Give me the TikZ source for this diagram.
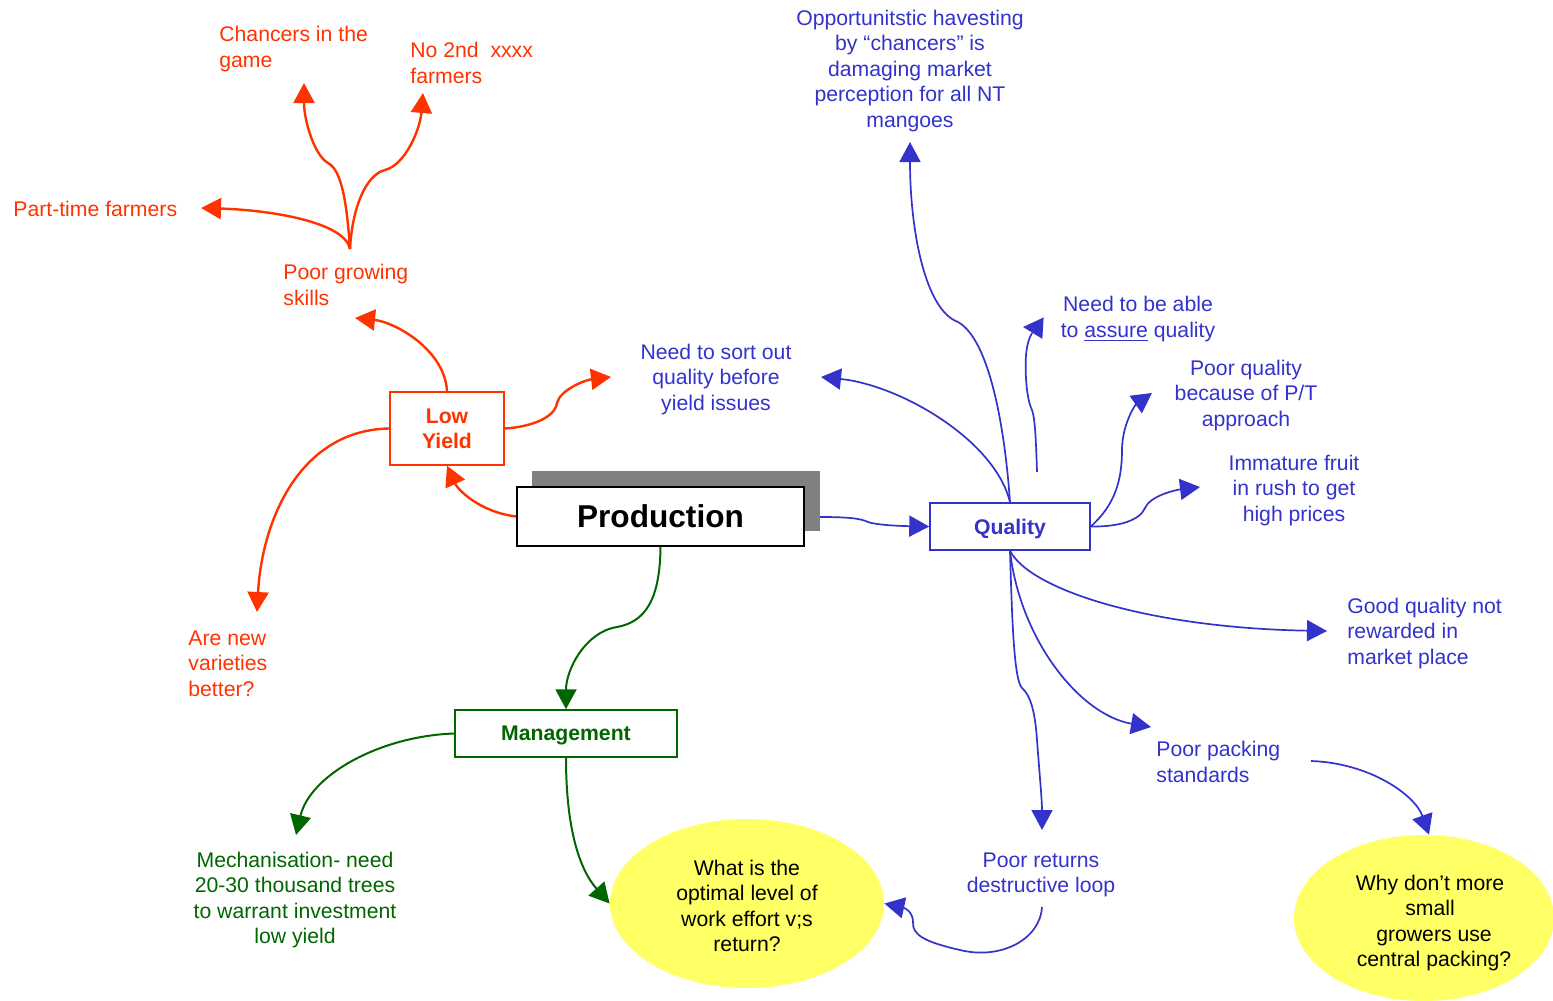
\documentclass[tikz,border=0pt]{standalone}
\usepackage{fontspec}
\setmainfont{Liberation Sans}
\usetikzlibrary{arrows.meta,shapes.geometric}
\definecolor{redo}{RGB}{255,51,0}
\definecolor{blu}{RGB}{51,51,204}
\definecolor{grn}{RGB}{0,102,0}
\definecolor{yel}{RGB}{255,255,102}
\definecolor{shd}{RGB}{128,128,128}

\begin{document}
\begin{tikzpicture}[x=0.5pt,y=-0.5pt,
  txt/.style={inner sep=0pt, yshift=-1pt, font=\fontsize{10.6}{12.75}\selectfont},
  lbl/.style={txt, align=left, anchor=west},
  ctr/.style={txt, align=center},
  box/.style={draw, line width=0.75pt, inner sep=0pt, align=center,
    font=\bfseries\fontsize{10.6}{12.5}\selectfont},
  bubble/.style={ellipse, fill=yel, inner sep=0pt},
  tip/.style={-{Triangle[length=10pt,width=10.5pt]}},
  rl/.style={redo, line width=1.2pt, tip},
  bl/.style={blu, line width=0.85pt, tip},
  gl/.style={grn, line width=1pt, tip},
]
\useasboundingbox (0,0) rectangle (1553,1001);
\fill[white] (0,0) rectangle (1553,1001);

% ---- central node with its shadow ----
\node[fill=shd, minimum width=144pt, minimum height=30pt, inner sep=0pt,
  anchor=north west] (shadow) at (532,471) {};
\node[draw=black, fill=white, line width=1pt, minimum width=143.5pt,
  minimum height=29.5pt, inner sep=0pt,
  font=\bfseries\fontsize{15.8}{18}\selectfont] (prod) at (660.5,516.5) {Production};

% ---- branch boxes ----
\node[box, draw=redo, text=redo, minimum width=57pt, minimum height=36.5pt]
  (ly) at (447,428.5) {Low\\Yield};
\node[box, draw=blu, text=blu, minimum width=80pt, minimum height=23.5pt,
  text height=9.7pt, text depth=2.2pt] (q) at (1010,526.5) {Quality};
\node[box, draw=grn, text=grn, minimum width=111pt, minimum height=23.5pt,
  text height=9.2pt, text depth=2.2pt] (mg) at (566,733.5) {Management};

% ---- question bubbles ----
\node[bubble, minimum width=137pt, minimum height=84.5pt] (e1) at (747,903.5) {};
\node[ctr, text=black] (e1t) at (747,904)
  {What is the\\optimal level of\\work effort v;s\\return?};
\node[bubble, minimum width=130pt, minimum height=83pt] (e2) at (1424,918) {};
\node[ctr, text=black] (e2t) at (1430,921)
  {Why don’t more\\small\\\hspace*{4pt}growers use\\\hspace*{4pt}central packing?};

% ---- red (yield) labels ----
\begin{scope}[text=redo]
\node[lbl] (chance) at (219,47) {Chancers in the\\game};
\node[lbl] (no2nd) at (410,61) {No 2nd\ \ xxxx\\farmers};
\node[lbl] (part) at (13,207) {Part-time farmers};
\node[lbl] (pgrow) at (283,283) {Poor growing\\skills};
\node[lbl] (arenew) at (188,661.5) {Are new\\varieties\\better?};
\end{scope}

% ---- blue (quality) labels ----
\begin{scope}[text=blu]
\node[ctr] (sort) at (716,377.5) {Need to sort out\\quality before\\yield issues};
\node[ctr] (opp) at (910,69) {Opportunitstic havesting\\by “chancers” is\\damaging market\\perception for all NT\\mangoes};
\node[ctr] (assure) at (1138,317) {Need to be able\\to \underline{assure} quality};
\node[ctr] (poorq) at (1246,393.5) {Poor quality\\because of P/T\\approach};
\node[ctr] (imm) at (1294,488.5) {Immature fruit\\in rush to get\\high prices};
\node[lbl] (goodq) at (1347,631.5) {Good quality not\\rewarded in\\market place};
\node[lbl] (pack) at (1156,760) {Poor packing\\standards};
\node[ctr] (ret) at (1041,873) {Poor returns\\destructive loop};
\end{scope}

% ---- green (management) label ----
\node[ctr, text=grn] (mech) at (295,898)
  {Mechanisation- need\\20-30 thousand trees\\to warrant investment\\low yield};

% ---- connector end points ----
\coordinate (pgTop) at (350,249);
\coordinate (tChance) at (304,83);
\coordinate (tNo2nd) at (423,93);
\coordinate (tPart) at (201,208);
\coordinate (tPgrow) at (355,318);
\coordinate (tSortR) at (611,377);
\coordinate (tAreNew) at (257,612);
\coordinate (tSortB) at (821,377);
\coordinate (tOpp) at (910,142);
\coordinate (aStart) at (1037,472);
\coordinate (aBase) at (1040,328);
\coordinate (tAssure) at (1023,327);
\coordinate (tPoorQ) at (1152,393);
\coordinate (tImm) at (1200,487);
\coordinate (tGoodQ) at (1327,631);
\coordinate (tPack) at (1151,727);
\coordinate (tRet) at (1042,830);
\coordinate (packEnd) at (1311,761);
\coordinate (retEnd) at (1042,907);
\coordinate (prodR) at (820,517);
\coordinate (tMech) at (296,835);

% ---- red connectors ----
\draw[rl] (prod.west) .. controls (480,512) and (458,490) .. (ly.south);
\draw[rl] (ly.north) .. controls (445,350) and (395,322) .. (tPgrow);
\draw[rl] (ly.east) .. controls (530,427) and (555,418) .. (557,403)
  .. controls (560,390) and (585,380) .. (tSortR);
\draw[rl] (ly.west) .. controls (300,430) and (262,520) .. (tAreNew);
\draw[rl] (pgTop) .. controls (345,222) and (270,210) .. (tPart);
\draw[rl] (pgTop) .. controls (347,205) and (342,170) .. (328,163)
  .. controls (314,155) and (304,120) .. (tChance);
\draw[rl] (pgTop) .. controls (352,210) and (365,175) .. (385,170)
  .. controls (405,165) and (420,130) .. (tNo2nd);

% ---- blue connectors ----
\draw[bl] (prodR) .. controls (845,517) and (860,518) .. (868,522)
  .. controls (876,525) and (900,526) .. (q.west);
\draw[bl] (q.north) .. controls (1005,430) and (990,340) .. (958,322)
  .. controls (925,310) and (910,230) .. (tOpp);
\draw[bl] (q.north) .. controls (995,440) and (900,385) .. (tSortB);
\draw[blu, line width=0.85pt] (aStart) .. controls (1036,440) and (1035,418) .. (1032,410)
  .. controls (1026,398) and (1025,370) .. (1026,355)
  .. controls (1027,345) and (1029,338) .. (1032,333);
\draw[bl] (aBase) -- (tAssure);
\draw[bl] (q.east) .. controls (1115,505) and (1122,480) .. (1122,450)
  .. controls (1122,425) and (1135,405) .. (tPoorQ);
\draw[bl] (q.east) .. controls (1120,527) and (1140,520) .. (1145,508)
  .. controls (1150,496) and (1175,490) .. (tImm);
\draw[bl] (q.south) .. controls (1030,590) and (1150,628) .. (tGoodQ);
\draw[bl] (q.south) .. controls (1020,640) and (1080,715) .. (tPack);
\draw[bl] (q.south) .. controls (1012,620) and (1014,680) .. (1022,688)
  .. controls (1030,695) and (1035,710) .. (1037,740)
  .. controls (1040,780) and (1042,800) .. (tRet);
\draw[bl] (packEnd) .. controls (1370,763) and (1415,795) .. ([xshift=2.5pt]e2.north);
\draw[bl] (retEnd) .. controls (1040,940) and (1000,960) .. (960,950)
  .. controls (925,942) and (912,935) .. (913,922)
  .. controls (913,912) and (905,908) .. (e1.east);

% ---- green connectors ----
\draw[gl] (prod.south) .. controls (660,600) and (645,622) .. (617,627)
  .. controls (585,632) and (566,670) .. (mg.north);
\draw[gl] (mg.west) .. controls (380,736) and (310,775) .. (tMech);
\draw[gl] (mg.south) .. controls (566,830) and (580,870) .. (e1.west);
\end{tikzpicture}
\end{document}
